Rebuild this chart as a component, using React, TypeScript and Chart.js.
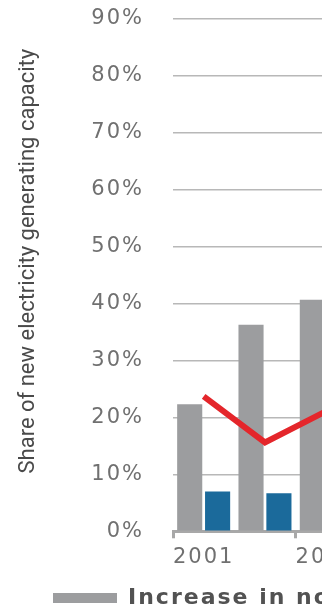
import React, { useEffect, useRef } from 'react';
import { Chart, registerables } from 'chart.js';

Chart.register(...registerables);

// ---- data ----
const years = ['2001', '2002', '2003'];
const increaseValues = [22.3, 36.3, 40.7];
const secondValues = [7.0, 6.7, 8.0];
const shareLine = [23.7, 15.6, 21.1];
const seriesLabels = [
  'Increase in non-hydro renewables',
  'Increase in wind and solar',
  'Renewables share of new capacity',
];
const yTitle = 'Share of new electricity generating capacity';
const yMin = 0;
const yMax = 90;
const yStep = 10;

// ---- styles ----
const GRAY = '#9c9d9f';
const BLUE = '#1b6a9b';
const RED = '#e4262b';
const GRID = '#b8b8b8';
const AXIS = '#a8a8a8';
const TICK = '#707070';
const TITLE = '#4a4a4a';
const LEGEND_TEXT = '#525252';
const CANVAS_W = 360;
const CANVAS_H = 609;

const stylePlugin = {
  id: 'stylePlugin',
  afterLayout(chart: any) {
    const lg = chart.legend;
    if (lg) {
      lg.left += 43;
      lg.top += 10;
      lg.bottom += 10;
    }
  },
  beforeDraw(chart: any) {
    const ctx = chart.ctx;
    ctx.letterSpacing = '2px';
    const y = chart.scales.y;
    if (y && !y.__wrapped) {
      const orig = y.drawTitle;
      y.drawTitle = function (...args: any[]) {
        ctx.save();
        ctx.letterSpacing = '0px';
        ctx.translate(0, -14);
        orig.apply(this, args);
        ctx.restore();
      };
      y.__wrapped = true;
    }
  },
  afterDraw(chart: any) {
    chart.ctx.letterSpacing = '0px';
  },
};

export default function App() {
  const ref = useRef<HTMLCanvasElement>(null);

  useEffect(() => {
    const canvas = ref.current!;
    const chart = new Chart(canvas, {
      type: 'bar',
      data: {
        labels: years,
        datasets: [
          {
            type: 'bar',
            label: seriesLabels[0],
            data: increaseValues,
            backgroundColor: GRAY,
            borderWidth: 0,
            order: 1,
            categoryPercentage: 0.91,
            barPercentage: 0.9,
          },
          {
            type: 'bar',
            label: seriesLabels[1],
            data: secondValues,
            backgroundColor: BLUE,
            borderWidth: 0,
            order: 1,
            categoryPercentage: 0.91,
            barPercentage: 0.9,
          },
          {
            type: 'line',
            label: seriesLabels[2],
            data: shareLine,
            borderColor: RED,
            backgroundColor: RED,
            borderWidth: 6,
            pointRadius: 0,
            tension: 0,
            fill: false,
            order: 0,
          } as any,
        ],
      },
      options: {
        responsive: false,
        animation: false,
        layout: { padding: { top: 19, bottom: 0, left: 0, right: 0 } },
        plugins: {
          tooltip: { enabled: false },
          legend: {
            position: 'bottom',
            align: 'start',
            labels: {
              boxWidth: 64,
              boxHeight: 10,
              padding: 10,
              color: LEGEND_TEXT,
              font: { family: 'DejaVu Sans', size: 22, weight: 'bold' },
              filter: (item: any) => item.datasetIndex === 0,
            },
          },
        },
        scales: {
          x: {
            offset: true,
            grid: {
              display: true,
              offset: true,
              drawOnChartArea: false,
              drawTicks: true,
              tickLength: 7,
              tickWidth: 3,
              color: AXIS,
              tickColor: (c: any) => (c.index % 2 === 0 ? AXIS : 'rgba(0,0,0,0)'),
            },
            border: { display: true, color: AXIS, width: 3 },
            ticks: {
              autoSkip: false,
              maxRotation: 0,
              minRotation: 0,
              padding: 7,
              color: TICK,
              font: { family: 'DejaVu Sans', size: 21 },
              callback: function (this: any, v: any, i: number) {
                return i % 2 === 0 ? this.getLabelForValue(v) : '';
              },
            },
            afterFit: (s: any) => {
              s.height = 35.7;
            },
          },
          y: {
            min: yMin,
            max: yMax,
            ticks: {
              stepSize: yStep,
              padding: 29,
              color: TICK,
              font: { family: 'DejaVu Sans', size: 21 },
              callback: (v: any) => v + '%',
            },
            grid: { color: GRID, lineWidth: 1.5, drawTicks: false },
            border: { display: false },
            title: {
              display: true,
              text: yTitle,
              color: TITLE,
              font: { family: 'Roboto', size: 22 },
              padding: { top: 15, bottom: 0 },
            },
            afterFit: (s: any) => {
              s.width = 173;
              s.paddingTop = 0;
              s.paddingBottom = 0;
            },
          },
        },
      },
      plugins: [stylePlugin],
    } as any);
    return () => chart.destroy();
  }, []);

  return (
    <div
      style={{
        position: 'fixed',
        left: 0,
        top: 0,
        width: 322,
        height: 609,
        overflow: 'hidden',
        background: '#fff',
      }}
    >
      <canvas
        ref={ref}
        width={CANVAS_W}
        height={CANVAS_H}
        style={{ display: 'block', width: CANVAS_W, height: CANVAS_H }}
      />
    </div>
  );
}
